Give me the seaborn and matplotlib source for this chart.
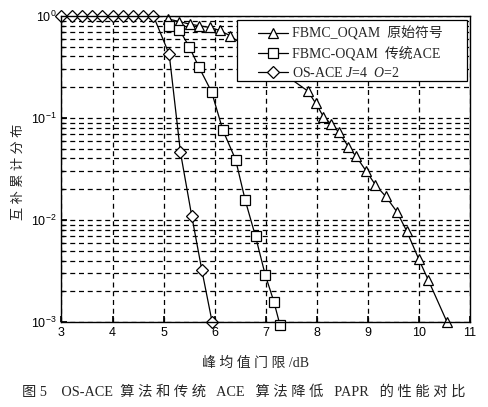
import matplotlib
matplotlib.use("Agg")
import matplotlib.pyplot as plt
import seaborn as sns
import pandas as pd
import numpy as np
from matplotlib.ticker import LogLocator, NullFormatter, FixedLocator
from matplotlib.patches import Rectangle

sns.set_theme(style="ticks")
plt.rcParams['font.family'] = ['Liberation Sans', 'Noto Sans CJK SC', 'DejaVu Sans']
plt.rcParams['mathtext.fontset'] = 'custom'
plt.rcParams['mathtext.rm'] = 'Liberation Serif'
plt.rcParams['mathtext.it'] = 'Liberation Serif:italic'

# ---- data ----
tri_x = [5.09, 5.31, 5.51, 5.70, 5.90, 6.10, 6.30, 7.82, 7.98, 8.13, 8.28, 8.44, 8.62,
         8.77, 8.97, 9.15, 9.35, 9.57, 9.76, 10.0, 10.18, 10.55]
tri_y = [0.93, 0.88, 0.83, 0.80, 0.77, 0.72, 0.64, 0.184, 0.139, 0.103, 0.087, 0.072,
         0.052, 0.042, 0.030, 0.022, 0.017, 0.012, 0.0078, 0.0041, 0.0026, 0.001]

sq_x = [5.11, 5.31, 5.50, 5.69, 5.94, 6.16, 6.41, 6.60, 6.80, 6.99, 7.16, 7.28]
sq_y = [0.79, 0.73, 0.50, 0.316, 0.18, 0.076, 0.039, 0.0155, 0.0069, 0.0029, 0.00158, 0.00093]

dia_x = [3.0, 3.2, 3.4, 3.6, 3.8, 4.0, 4.2, 4.4, 4.6, 4.8, 5.11, 5.33, 5.55, 5.75, 5.95]
dia_y = [1.0, 1.0, 1.0, 1.0, 1.0, 1.0, 1.0, 1.0, 1.0, 1.0, 0.42, 0.046, 0.011, 0.0032, 0.001]

labels = ["FBMC_OQAM  原始符号", "FBMC-OQAM  传统ACE", "OS-ACE $\\mathit{J}$=4  $\\mathit{O}$=2"]
markers = ["^", "s", "D"]
msizes = [7.5, 6.5, 6]

xticks = [3, 4, 5, 6, 7, 8, 9, 10, 11]

xlabel = "峰 均 值 门 限 /dB"
ylabel = "互 补 累 计 分 布"
caption = "图 5    OS-ACE  算 法 和 传 统   ACE   算 法 降 低   PAPR   的 性 能 对 比"

fig = plt.figure(figsize=(4.88, 4.07), dpi=100)
ax = fig.add_axes([0.126, 0.209, 0.837, 0.752])

series = [(tri_x, tri_y), (sq_x, sq_y), (dia_x, dia_y)]
for (xs, ys), lab, mk, ms in zip(series, labels, markers, msizes):
    df = pd.DataFrame({"x": xs, "y": ys})
    sns.lineplot(data=df, x="x", y="y", ax=ax, color="black", linewidth=0.9,
                 marker=mk, markersize=ms, markerfacecolor="white",
                 markeredgecolor="black", markeredgewidth=0.9, label=lab,
                 clip_on=False, zorder=2)

ax.set_yscale("log")
ax.set_xlim(3, 11)
ax.set_ylim(1e-3, 1)
ax.xaxis.set_major_locator(FixedLocator(xticks))
ax.yaxis.set_major_locator(LogLocator(base=10, numticks=10))
ax.yaxis.set_minor_locator(LogLocator(base=10, subs=np.arange(2, 10), numticks=20))
ax.yaxis.set_minor_formatter(NullFormatter())

ax.grid(True, which="major", axis="both", color="black", linestyle=(0, (4, 3)), linewidth=0.9)
ax.grid(True, which="minor", axis="y", color="black", linestyle=(0, (4, 3)), linewidth=0.9)
ax.set_axisbelow(True)

for s in ax.spines.values():
    s.set_color("black")
    s.set_linewidth(1.0)
ax.tick_params(axis="both", which="both", direction="in", colors="black", labelsize=9)
ax.tick_params(which="major", length=4)
ax.tick_params(which="minor", length=2)

ax.set_xlabel(xlabel, fontsize=10, family=['Liberation Serif', 'Noto Sans CJK SC'])
ax.xaxis.set_label_coords(0.476, -0.115)
ax.set_ylabel(ylabel, fontsize=9.5, family=['Liberation Serif', 'Noto Sans CJK SC'])
ax.yaxis.set_label_coords(-0.089, 0.49)

# legend frame (box) and legend entries
frame = Rectangle((0.429, 0.788), 0.565, 0.199, transform=ax.transAxes,
                  facecolor="white", edgecolor="black", linewidth=0.9, zorder=9)
ax.add_patch(frame)
leg = ax.legend(loc="upper left", bbox_to_anchor=(0.482, 0.966), frameon=False,
                handlelength=2.1, borderpad=0.0, labelspacing=0.38, handletextpad=0.35,
                borderaxespad=0.0,
                prop={'family': ['Liberation Serif', 'Noto Sans CJK SC'], 'size': 10})
leg.set_zorder(10)

fig.text(0.5, 0.037, caption, ha="center", va="center", fontsize=10.3,
         family=['Liberation Serif', 'Noto Sans CJK SC'])

fig.savefig("out.png", dpi=100)
